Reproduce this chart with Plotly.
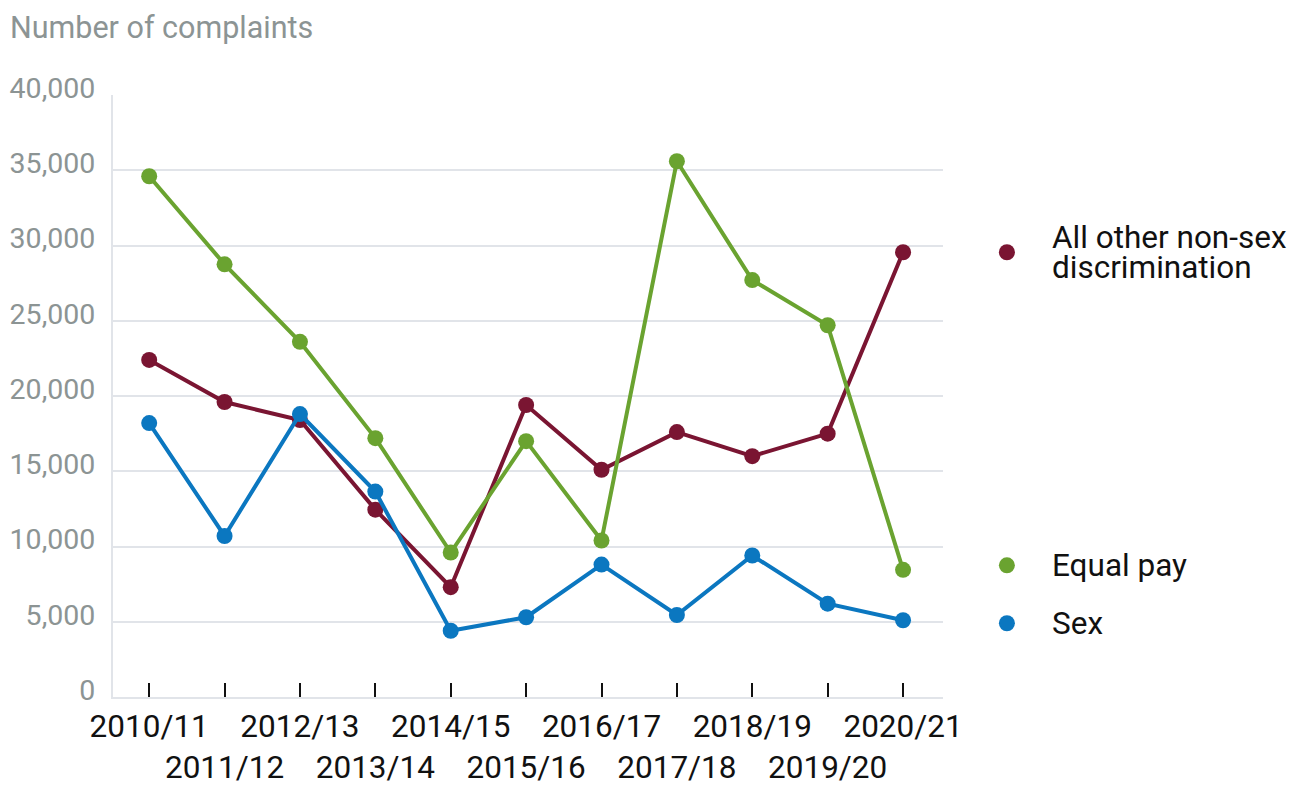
import plotly.graph_objects as go

# Anos fiscais
anos = ["2010/11", "2011/12", "2012/13", "2013/14", "2014/15", "2015/16",
        "2016/17", "2017/18", "2018/19", "2019/20", "2020/21"]

# Número de reclamações por série
outras = [22400, 19600, 18400, 12450, 7300, 19400, 15100, 17600, 16000, 17500, 29550]
igualdade_salarial = [34600, 28750, 23600, 17200, 9600, 17000, 10400, 35600, 27700, 24700, 8450]
sexo = [18200, 10700, 18800, 13650, 4400, 5300, 8800, 5450, 9400, 6200, 5100]

VERMELHO = "#7a1532"
VERDE = "#6aa330"
AZUL = "#0b77c0"
CINZA = "#8c9494"
GRADE = "#e1e4e9"
FONTE = "Roboto"

series = [
    ("All other non-sex discrimination", outras, VERMELHO),
    ("Equal pay", igualdade_salarial, VERDE),
    ("Sex", sexo, AZUL),
]

x = list(range(len(anos)))
# rótulos em duas linhas alternadas
rotulos = [a if i % 2 == 0 else "<br>" + a for i, a in enumerate(anos)]

fig = go.Figure()
for nome, valores, cor in series:
    fig.add_trace(go.Scatter(
        x=x, y=valores, name=nome, mode="lines+markers",
        line=dict(color=cor, width=4),
        marker=dict(color=cor, size=16),
        hoverinfo="skip",
    ))

# legenda manual à direita, alinhada ao último valor
desloc = {"All other non-sex discrimination": 0, "Equal pay": 300, "Sex": -200}
anot = []
formas = []
for nome, valores, cor in series:
    y_leg = valores[-1] + desloc[nome]
    formas.append(dict(
        type="circle", xref="paper", yref="y", xsizemode="pixel", ysizemode="pixel",
        xanchor=1.077, yanchor=y_leg, x0=-8, x1=8, y0=-8, y1=8,
        fillcolor=cor, line=dict(width=0),
    ))
    if nome.startswith("All other"):
        partes = [("All other non-sex", 15), ("discrimination", -15)]
    else:
        partes = [(nome, 0)]
    for texto, ys in partes:
        anot.append(dict(
            text=texto, xref="paper", yref="y", x=1.129, y=y_leg, yshift=ys,
            xanchor="left", yanchor="middle", showarrow=False,
            font=dict(family=FONTE, size=31.5, color="#111111"),
        ))

anot.append(dict(
    text="Number of complaints", xref="paper", yref="paper", x=-0.1265, y=1.0,
    yshift=68, xanchor="left", yanchor="middle", showarrow=False,
    font=dict(family=FONTE, size=30.5, color=CINZA),
))

fig.update_layout(
    width=1297, height=778,
    margin=dict(l=105, r=362, t=87, b=89),
    plot_bgcolor="white", paper_bgcolor="white",
    showlegend=False,
    font=dict(family=FONTE),
    annotations=anot,
    shapes=formas,
)
fig.update_xaxes(
    range=[-0.48, 10.53], tickvals=x, ticktext=rotulos, tickangle=0,
    automargin=False,
    showgrid=False, zeroline=False,
    showline=True, linecolor=GRADE, linewidth=2,
    ticks="inside", ticklen=14, tickwidth=2, tickcolor="#111111",
    tickfont=dict(family=FONTE, size=31.5, color="#111111"),
)
fig.update_yaxes(
    range=[0, 40000], tickvals=[0, 5000, 10000, 15000, 20000, 25000, 30000, 35000, 40000],
    tickformat=",", showgrid=True, gridcolor=GRADE, gridwidth=2, zeroline=False,
    automargin=False,
    showline=True, linecolor=GRADE, linewidth=2,
    ticklabelstandoff=10, ticklabelshift=-7,
    tickfont=dict(family=FONTE, size=28.5, color=CINZA),
)

fig.write_html("out.html")
